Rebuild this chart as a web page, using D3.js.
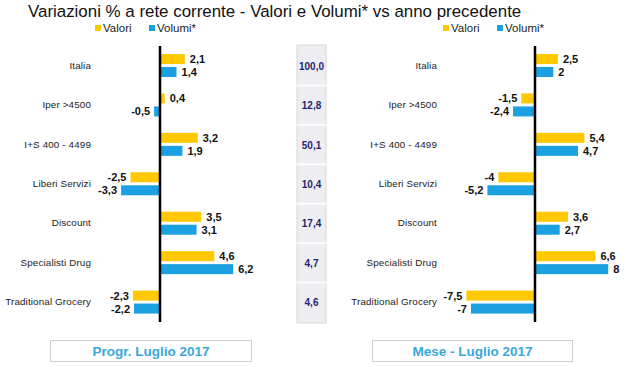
<!DOCTYPE html>
<html><head><meta charset="utf-8">
<script src="https://cdn.jsdelivr.net/npm/d3@7"></script>
<style>body{margin:0;background:#fff}svg{display:block}</style>
</head><body><svg id="c" width="631" height="366"></svg>
<script>
const categories = ["Italia","Iper >4500","I+S 400 - 4499","Liberi Servizi","Discount","Specialisti Drug","Traditional Grocery"];
const series = ["Valori","Volumi*"];
const progrValori = [2.1,0.4,3.2,-2.5,3.5,4.6,-2.3];
const progrVolumi = [1.4,-0.5,1.9,-3.3,3.1,6.2,-2.2];
const meseValori = [2.5,-1.5,5.4,-4,3.6,6.6,-7.5];
const meseVolumi = [2,-2.4,4.7,-5.2,2.7,8,-7];
const shares = ["100,0","12,8","50,1","10,4","17,4","4,7","4,6"];
const panelTitles = ["Progr. Luglio 2017","Mese - Luglio 2017"];
const colors = ["#FFC800","#1BA1E2"];

const svg = d3.select("#c");
const fmt = v => String(v).replace(".", ",");

svg.append("text").attr("x",28).attr("y",17).attr("font-family","Liberation Sans, Arial, sans-serif")
  .attr("font-size",16.9).attr("fill","#111")
  .text("Variazioni % a rete corrente - Valori e Volumi* vs anno precedente");

const y = d3.scaleBand().domain(categories).range([46,322]);
const yi = d3.scaleBand().domain(series).range([8,31]).paddingInner(0.23);

function panel(vals, xDomain, xRange, labelX, legendX, boxX0, boxX1, title){
  const x = d3.scaleLinear().domain(xDomain).range(xRange);
  const lg = svg.append("g").attr("transform",`translate(${legendX},0)`);
  series.forEach((s,i)=>{
    const ox = i*54;
    lg.append("rect").attr("x",ox).attr("y",25).attr("width",6).attr("height",6).attr("fill",colors[i]);
    lg.append("text").attr("x",ox+8).attr("y",31.5).attr("font-family","Liberation Sans, Arial, sans-serif")
      .attr("font-size",11.5).attr("fill","#222").text(s);
  });
  const g = svg.append("g");
  categories.forEach((c,ci)=>{
    g.append("text").attr("x",labelX).attr("y",y(c)+y.bandwidth()/2+3)
      .attr("text-anchor","end").attr("font-family","Liberation Sans, Arial, sans-serif")
      .attr("font-size",9.8).attr("letter-spacing",0.15).attr("fill","#222").text(c);
    series.forEach((s,si)=>{
      const v = vals[si][ci];
      const by = y(c)+yi(s);
      g.append("rect").attr("x",Math.min(x(0),x(v))).attr("y",by)
        .attr("width",Math.abs(x(v)-x(0))).attr("height",yi.bandwidth()).attr("fill",colors[si]);
      g.append("text").attr("x", v>=0 ? x(v)+5 : x(v)-4).attr("y",by+yi.bandwidth()/2+4)
        .attr("text-anchor", v>=0 ? "start":"end").attr("font-family","Liberation Sans, Arial, sans-serif")
        .attr("font-weight","bold").attr("font-size",11).attr("fill","#111").text(fmt(v));
    });
  });
  g.append("line").attr("x1",x(0)).attr("x2",x(0)).attr("y1",46).attr("y2",322)
    .attr("stroke","#000").attr("stroke-width",2.5);
  svg.append("rect").attr("x",boxX0).attr("y",340.5).attr("width",boxX1-boxX0).attr("height",21)
    .attr("fill","#fff").attr("stroke","#cfcfcf").attr("stroke-width",1);
  svg.append("text").attr("x",(boxX0+boxX1)/2).attr("y",355.5).attr("text-anchor","middle")
    .attr("font-family","Liberation Sans, Arial, sans-serif").attr("font-weight","bold")
    .attr("font-size",13.5).attr("fill","#3AA7DA").text(title);
}

panel([progrValori,progrVolumi],[-4,7],[160-4*11.8,160+7*11.8],91,95,50.5,251.5,panelTitles[0]);
panel([meseValori,meseVolumi],[-8,9],[535-8*9.15,535+9*9.15],437,443,372.5,572.5,panelTitles[1]);

const tg = svg.append("g");
tg.append("rect").attr("x",297).attr("y",45).attr("width",29).attr("height",278).attr("fill","#eeeef2").attr("stroke","#d8d8dc");
categories.forEach((c,i)=>{
  if(i>0) tg.append("line").attr("x1",297).attr("x2",326).attr("y1",y(c)).attr("y2",y(c)).attr("stroke","#ffffff").attr("stroke-width",1.5);
  tg.append("text").attr("x",311.5).attr("y",y(c)+y.bandwidth()/2+4).attr("text-anchor","middle")
    .attr("font-family","Liberation Sans, Arial, sans-serif").attr("font-weight","bold").attr("font-size",10)
    .attr("fill","#1f2670").text(shares[i]);
});
</script></body></html>
